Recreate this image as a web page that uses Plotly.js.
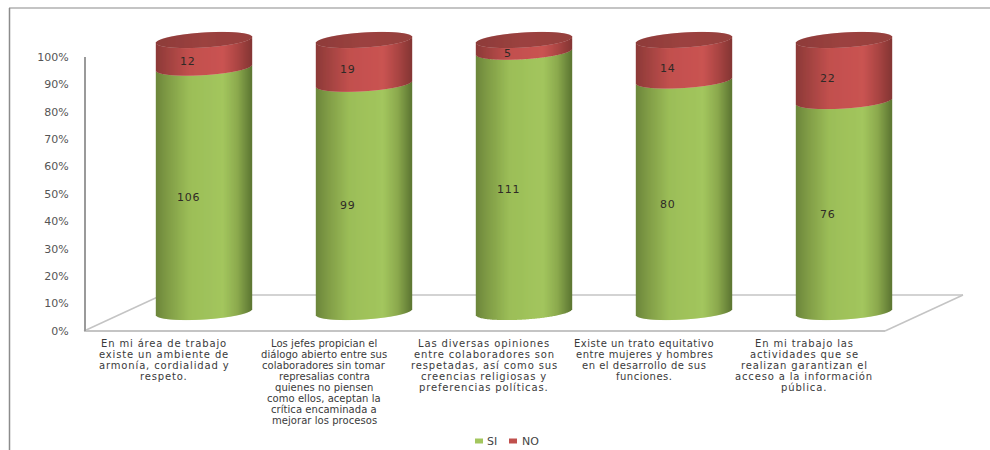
<!DOCTYPE html>
<html>
<head>
<meta charset="utf-8">
<script src="https://cdn.plot.ly/plotly-3.0.1.min.js"></script>
<style>html,body{margin:0;padding:0;background:#fff}#chart{width:990px;height:450px}</style>
</head>
<body>
<div id="chart"></div>
<script>
// Survey answers per statement
const categoryLines = [
  ["En mi área de trabajo", "existe un ambiente de", "armonía, cordialidad y", "respeto."],
  ["Los jefes propician el", "diálogo abierto entre sus", "colaboradores sin tomar", "represalias contra", "quienes no piensen", "como ellos, aceptan la", "crítica encaminada a", "mejorar los procesos"],
  ["Las diversas opiniones", "entre colaboradores son", "respetadas, así como sus", "creencias religiosas y", "preferencias políticas."],
  ["Existe un trato equitativo", "entre mujeres y hombres", "en el desarrollo de sus", "funciones."],
  ["En mi trabajo las", "actividades que se", "realizan garantizan el", "acceso a la información", "pública."]
];
const captionTracking = [0.85, 0.05, 0.85, 0.5, 0.85];
const siValues = [106, 99, 111, 80, 76];
const noValues = [12, 19, 5, 14, 22];
const tickValues = [0, 10, 20, 30, 40, 50, 60, 70, 80, 90, 100];
const tickLabels = ["0%", "10%", "20%", "30%", "40%", "50%", "60%", "70%", "80%", "90%", "100%"];

// Page geometry, in pixels
const W = 990, H = 450;
const firstCenter = 204, spacing = 160, halfWidth = 48;
const base0 = 312, unit = 2.72;          // cylinder axis: pixels at 0% and pixels per 1%
const axisBottom = 331, axisTop = 57;    // value axis end points
const radiusY = 7.5, tilt = 3;           // ellipse shape of the cylinder cross-section

const xp = px => px / W;
const yp = py => 1 - py / H;

// Horizontal shading across a cylinder, as [position, r, g, b]
const greenStops = [[-1,108,134,58],[-0.75,128,156,70],[-0.3,156,190,88],[0.4,163,198,94],[0.7,140,170,78],[1,92,118,50]];
const redStops   = [[-1,140,58,56],[-0.75,160,66,64],[-0.3,194,80,78],[0.4,202,84,82],[0.7,172,70,68],[1,132,54,52]];
const lidStops   = [[-1,142,60,58],[0,156,66,64],[1,150,64,62]];

function shade(stops, u) {
  for (let i = 1; i < stops.length; i++) {
    if (u <= stops[i][0]) {
      const a = stops[i - 1], b = stops[i], t = (u - a[0]) / (b[0] - a[0]);
      return `rgb(${[1, 2, 3].map(c => Math.round(a[c] + (b[c] - a[c]) * t)).join(",")})`;
    }
  }
  return `rgb(${stops[stops.length - 1].slice(1).join(",")})`;
}

// Height offset (in % units) of the front or back rim of an ellipse at position u
const rim = (u, side) => (tilt * u + side * radiusY * Math.sqrt(1 - u * u)) / unit;

const sx = [], sColor = [], sBase = [], sHeight = [];
const nColor = [], nBase = [], nHeight = [];
const lColor = [], lBase = [], lHeight = [];
siValues.forEach((si, i) => {
  const share = 100 * si / (si + noValues[i]);
  for (let k = -halfWidth; k < halfWidth; k++) {
    const u = (k + 0.5) / halfWidth;
    const front = rim(u, -1), back = rim(u, 1);
    sx.push(i + (k + 0.5) / spacing);
    sBase.push(front);
    sHeight.push(share);
    sColor.push(shade(greenStops, u));
    nBase.push(share + front);
    nHeight.push(100 - share);
    nColor.push(shade(redStops, u));
    lBase.push(100 + front);
    lHeight.push(back - front);
    lColor.push(shade(lidStops, u));
  }
});

const sliver = (y, base, color, name) => ({
  type: "bar", x: sx, y, base, name, yaxis: "y2",
  width: 1.4 / spacing,
  marker: {color, line: {width: 0}},
  hoverinfo: "skip", showlegend: false
});
const traces = [
  // Keeps the percentage axis on the page; it carries no marks of its own
  {type: "scatter", mode: "markers", x: [null], y: [null], yaxis: "y", showlegend: false, hoverinfo: "skip"},
  sliver(sHeight, sBase, sColor, "SI"),
  sliver(nHeight, nBase, nColor, "NO"),
  sliver(lHeight, lBase, lColor, "NO")
];

const tracked = (text, px) => `<span style="letter-spacing:${px}px">${text}</span>`;

// Value labels sit to the left of each cylinder's axis
const annotations = [];
const valueLabel = (i, y, text) => annotations.push({
  x: i, y, xref: "x", yref: "y2", text: tracked(text, 0.8), showarrow: false,
  xshift: -16, yshift: -8, font: {family: "DejaVu Sans", size: 11, color: "#2f2a26"}
});
siValues.forEach((si, i) => {
  const share = 100 * si / (si + noValues[i]);
  valueLabel(i, share / 2, si);
  valueLabel(i, share + (100 - share) / 2, noValues[i]);
});

// Category captions, one annotation per line for a tight line pitch
categoryLines.forEach((lines, i) => lines.forEach((line, n) => annotations.push({
  x: i, xref: "x", y: yp(343 + n * 11.1), yref: "paper", text: tracked(line, captionTracking[i]), showarrow: false,
  xshift: -40, yanchor: "middle", font: {family: "DejaVu Sans", size: 10, color: "#3a3a3a"}
})));

// Legend row
const legendEntry = (x, text) => annotations.push({
  x: xp(x), xref: "paper", y: yp(441), yref: "paper", text, showarrow: false,
  xanchor: "left", yanchor: "middle", font: {family: "DejaVu Sans", size: 11, color: "#444"}
});
legendEntry(485, "SI");
legendEntry(520, "NO");

const line = (x0, y0, x1, y1, color, width) => ({
  type: "line", xref: "paper", yref: "paper", layer: "below",
  x0: xp(x0), y0: yp(y0), x1: xp(x1), y1: yp(y1), line: {color, width}
});
const swatch = (x0, color) => ({
  type: "rect", xref: "paper", yref: "paper",
  x0: xp(x0), x1: xp(x0 + 8), y0: yp(438.5), y1: yp(443.5),
  fillcolor: color, line: {width: 0}
});
const shapes = [
  line(9, 8, 990, 8, "#b0b0b0", 1.5),
  line(9.5, 8, 9.5, 450, "#8c8c8c", 1.5),
  line(84, 331, 162, 295, "#c4c4c4", 1.5),
  line(162, 295, 963, 295, "#c4c4c4", 1.5),
  line(963, 295, 885, 331, "#c4c4c4", 1.5),
  line(84, 331, 885, 331, "#c4c4c4", 2),
  swatch(475, "#a3c65e"),
  swatch(509, "#c0504d")
];

const layout = {
  width: W, height: H,
  margin: {l: 0, r: 0, t: 0, b: 0, pad: 0},
  paper_bgcolor: "#fff", plot_bgcolor: "rgba(0,0,0,0)",
  barmode: "overlay", showlegend: false,
  xaxis: {
    range: [-firstCenter / spacing, (W - firstCenter) / spacing],
    visible: false, fixedrange: true
  },
  yaxis: {
    domain: [yp(axisBottom), yp(axisTop)], range: [0, 100],
    anchor: "free", position: xp(84),
    tickvals: tickValues, ticktext: tickLabels,
    ticks: "outside", ticklen: 13, tickcolor: "rgba(0,0,0,0)",
    showgrid: false, zeroline: false,
    showline: true, linecolor: "#9a9a9a", linewidth: 1.5,
    tickfont: {family: "DejaVu Sans", size: 11, color: "#555"},
    fixedrange: true
  },
  yaxis2: {
    domain: [0, 1], anchor: "x",
    range: [-(H - base0) / unit, base0 / unit],
    visible: false, fixedrange: true
  },
  shapes, annotations
};

Plotly.newPlot("chart", traces, layout, {staticPlot: true, displayModeBar: false});
</script>
</body>
</html>
